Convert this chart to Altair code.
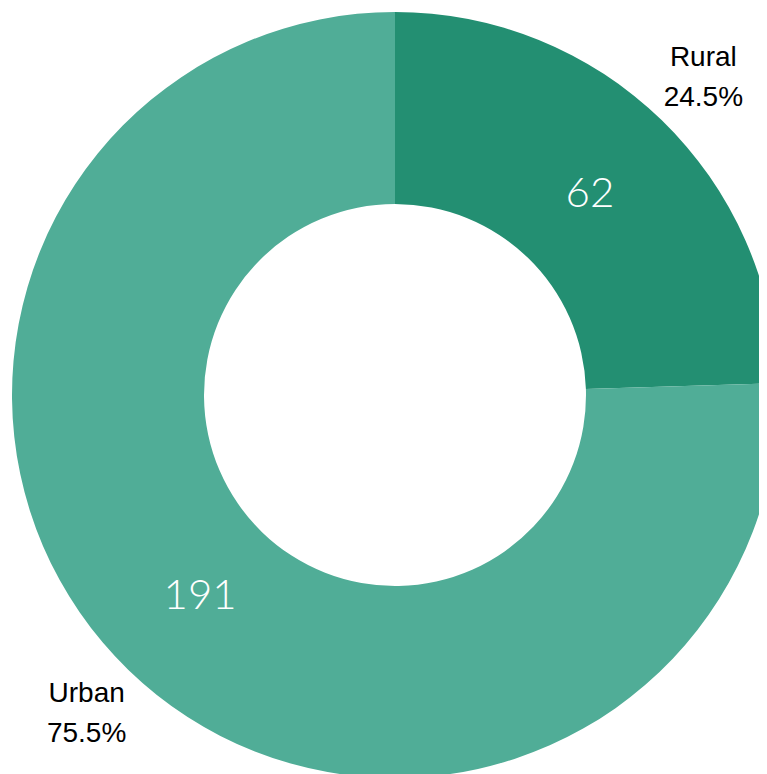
import altair as alt
import pandas as pd

categories = ["Rural", "Urban"]
counts = [62, 191]
percents = ["24.5%", "75.5%"]
colors = ["#238f72", "#50ad97"]
order = [0, 1]

df = pd.DataFrame({"category": categories, "count": counts, "pct": percents, "order": order})
df["label"] = df.apply(lambda r: [r["category"], r["pct"]], axis=1)

CX, CY = 387, 387

base = alt.Chart(df).encode(
    theta=alt.Theta("count:Q", stack=True),
    order=alt.Order("order:Q"),
    x=alt.value(CX),
    y=alt.value(CY),
)

arcs = base.mark_arc(outerRadius=383, innerRadius=191, stroke=None).encode(
    color=alt.Color("category:N", scale=alt.Scale(domain=categories, range=colors), legend=None)
)

inner = base.mark_text(radius=280, font="Lato", fontSize=42, fontWeight=300, color="white",
                       align="center", baseline="middle").encode(text="count:Q")

outer = base.mark_text(radius=443, font="Liberation Sans", fontSize=28, color="black",
                       align="center", baseline="middle", lineHeight=40, dy=-19).encode(text="label")

chart = alt.layer(arcs, inner, outer).properties(
    width=751, height=766, padding=0, autosize=alt.AutoSizeParams(type="none")
).configure_view(stroke=None)

chart.save("out.html", embed_options={"renderer": "svg", "actions": False})
